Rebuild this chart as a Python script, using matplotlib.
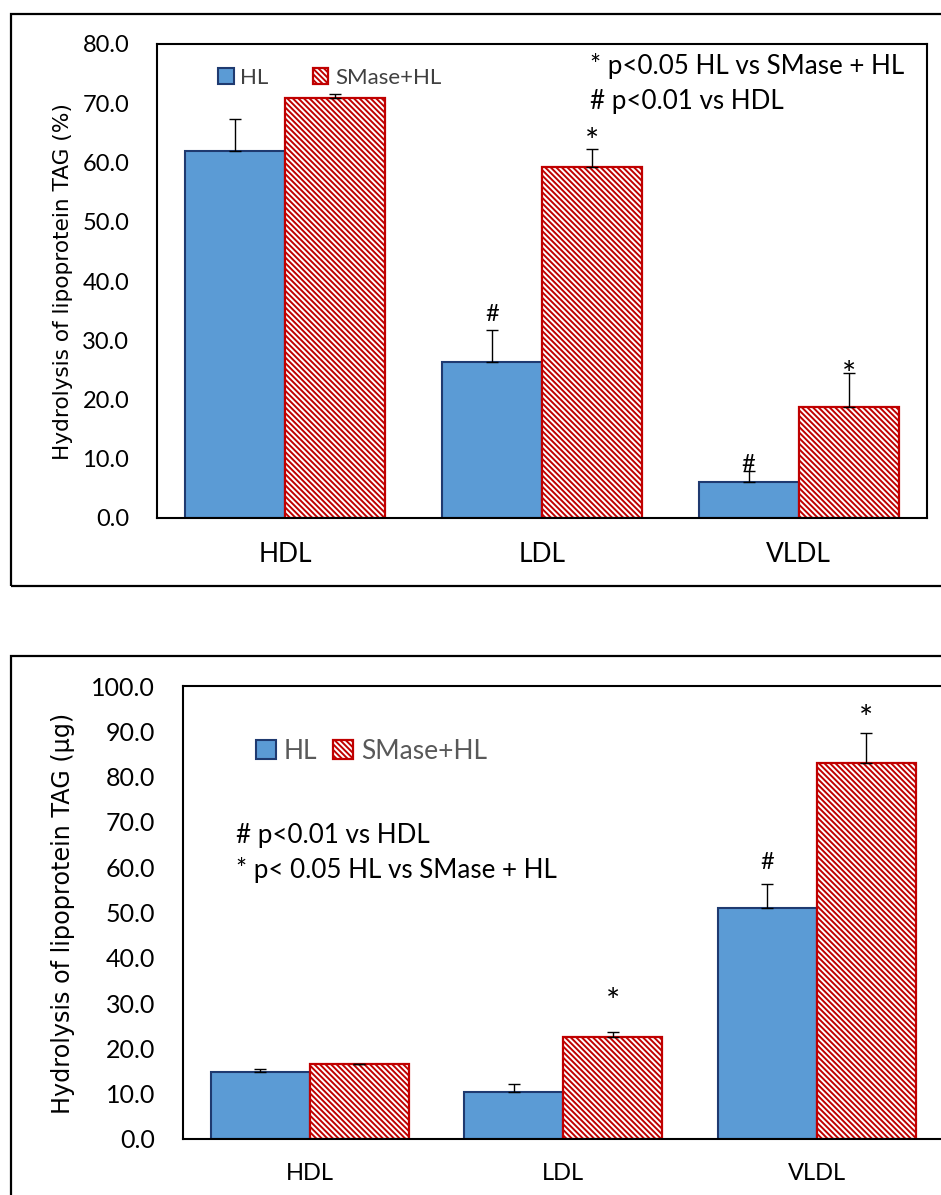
import matplotlib
matplotlib.use("Agg")
import matplotlib.pyplot as plt
from matplotlib.patches import Patch, Rectangle
import numpy as np

# lipoprotein classes
categories = ["HDL", "LDL", "VLDL"]

# panel A: hydrolysis of TAG, % of total
pct_hl = [62.0, 26.3, 6.0]
pct_hl_err = [5.3, 5.5, 2.0]
pct_smase = [70.9, 59.2, 18.8]
pct_smase_err = [0.7, 3.1, 5.6]
pct_ticks = [0, 10, 20, 30, 40, 50, 60, 70, 80]

# panel B: hydrolysis of TAG, µg
ug_hl = [14.7, 10.3, 50.9]
ug_hl_err = [0.8, 1.8, 5.5]
ug_smase = [16.5, 22.6, 82.9]
ug_smase_err = [0.1, 1.0, 6.8]
ug_ticks = [0, 10, 20, 30, 40, 50, 60, 70, 80, 90, 100]

# significance marks: (category index, series 0=HL 1=SMase+HL, symbol, y)
pct_marks = [(1, 0, "#", 34.3), (1, 1, "*", 63.25), (2, 0, "#", 9.1), (2, 1, "*", 23.95)]
ug_marks = [(1, 1, "*", 30.05), (2, 0, "#", 61.1), (2, 1, "*", 92.45)]

BLUE = "#5B9BD5"
NAVY = "#1F3A70"
RED = "#C00000"
HATCH = "\\" * 6
LABEL_FONT = ["Lato", "DejaVu Sans"]

plt.rcParams["hatch.linewidth"] = 1.4
plt.rcParams["font.family"] = LABEL_FONT

W, H = 941, 1195
fig = plt.figure(figsize=(W / 100, H / 100), dpi=100)


def px_rect(left, top, right, bottom):
    return [left / W, 1 - bottom / H, (right - left) / W, (bottom - top) / H]


def draw_panel(ax, hl, hl_err, sm, sm_err, ticks, marks, tick_size, cat_size):
    x = np.arange(len(categories))
    w = 0.39
    ax.bar(x - w / 2, hl, w, color=BLUE, edgecolor=NAVY, linewidth=1.5, zorder=2)
    ax.bar(x + w / 2, sm, w, color="white", edgecolor=RED, hatch=HATCH,
           linewidth=1.6, zorder=2)
    zeros = np.zeros(len(categories))
    ax.errorbar(x - w / 2, hl, yerr=[zeros, hl_err], fmt="none", ecolor="black",
                elinewidth=1.0, capsize=4, capthick=1.0, zorder=3)
    ax.errorbar(x + w / 2, sm, yerr=[zeros, sm_err], fmt="none", ecolor="black",
                elinewidth=1.0, capsize=4, capthick=1.0, zorder=3)
    for ci, si, sym, y in marks:
        xm = ci + (w / 2 if si else -w / 2)
        size = 24 if sym == "*" else 17
        ax.text(xm, y, sym, ha="center", va="center", fontsize=size, color="black",
                zorder=4)
    ax.set_xlim(-0.5, len(categories) - 0.5)
    ax.set_ylim(ticks[0], ticks[-1])
    ax.set_yticks(ticks)
    ax.set_yticklabels([f"{t:.1f}" for t in ticks], fontsize=tick_size)
    ax.set_xticks(x)
    ax.set_xticklabels(categories, fontsize=cat_size)
    ax.tick_params(axis="both", length=0, colors="black")
    ax.tick_params(axis="y", pad=20)
    ax.tick_params(axis="x", pad=17)
    for s in ax.spines.values():
        s.set_linewidth(1.5)
        s.set_color("black")


# outer frames around each panel
fig.add_artist(Rectangle((11 / W, 1 - 586 / H), 1.0, 572 / H, transform=fig.transFigure,
                         fill=False, edgecolor="black", linewidth=1.6))
fig.add_artist(Rectangle((11 / W, -0.05), 1.0, 1 - 656 / H + 0.05, transform=fig.transFigure,
                         fill=False, edgecolor="black", linewidth=1.6))

# panel A
ax1 = fig.add_axes(px_rect(157, 44, 927, 518))
draw_panel(ax1, pct_hl, pct_hl_err, pct_smase, pct_smase_err, pct_ticks, pct_marks, 17, 19)
fig.text(63 / W, 1 - 282 / H, "Hydrolysis of lipoprotein TAG (%)", rotation=90,
         ha="center", va="center", fontsize=15.6, family="DejaVu Sans")
fig.text(590 / W, 1 - 66 / H, "* p<0.05 HL vs SMase + HL", ha="left", va="center",
         fontsize=18.7)
fig.text(590 / W, 1 - 101 / H, "# p<0.01 vs HDL", ha="left", va="center", fontsize=18.7)

handles = [Patch(facecolor=BLUE, edgecolor=NAVY, linewidth=1.5),
           Patch(facecolor="white", edgecolor=RED, hatch=HATCH, linewidth=1.6)]
leg1 = fig.legend(handles, ["HL", "SMase+HL"], loc="center left",
                  bbox_to_anchor=(218 / W, 1 - 77.5 / H), ncol=2, frameon=False,
                  fontsize=16, handlelength=0.7, handleheight=0.7, handletextpad=0.3,
                  columnspacing=2.0, borderpad=0, borderaxespad=0)
for t in leg1.get_texts():
    t.set_color("#404040")

# panel B
ax2 = fig.add_axes(px_rect(183, 686, 943.5, 1139))
draw_panel(ax2, ug_hl, ug_hl_err, ug_smase, ug_smase_err, ug_ticks, ug_marks, 18, 17)
fig.text(63 / W, 1 - 913 / H, "Hydrolysis of lipoprotein TAG (µg)", rotation=90,
         ha="center", va="center", fontsize=17.2, family="DejaVu Sans")
fig.text(236 / W, 1 - 835 / H, "# p<0.01 vs HDL", ha="left", va="center", fontsize=18.7)
fig.text(236 / W, 1 - 870 / H, "* p< 0.05 HL vs SMase + HL", ha="left", va="center",
         fontsize=18.7)

leg2 = fig.legend(handles, ["HL", "SMase+HL"], loc="center left",
                  bbox_to_anchor=(256 / W, 1 - 751.5 / H), ncol=2, frameon=False,
                  fontsize=19, handlelength=0.75, handleheight=0.75, handletextpad=0.3,
                  columnspacing=0.6, borderpad=0, borderaxespad=0)
for t in leg2.get_texts():
    t.set_color("#595959")

fig.savefig("out.png", dpi=100)
